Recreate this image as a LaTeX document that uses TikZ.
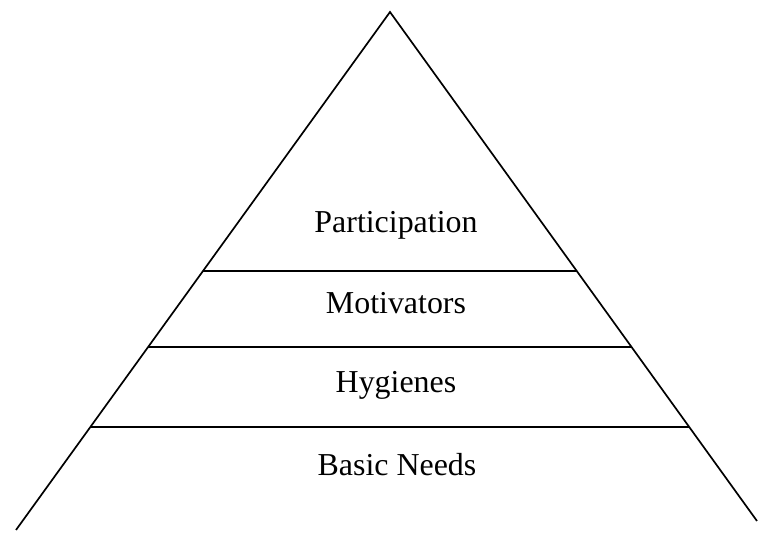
\documentclass[tikz,border=0pt]{standalone}
\usepackage{fontspec}
\setmainfont{Liberation Serif}
\usepackage{tikz}

\begin{document}
\begin{tikzpicture}[scale=0.25]
\tikzstyle{every node}+=[inner sep=0pt]
\tikzstyle{level}=[font=\fontsize{22.7}{27}\selectfont]
\useasboundingbox (0,0) rectangle (75.8,-53.4);
\coordinate (apex) at (39,-1.2);
\coordinate (bl) at (1.6,-53);
\coordinate (br) at (75.7,-52.1);
\draw [black, line width=1.2pt] (bl) -- (apex) -- (br);
\coordinate (l1) at (20.3,-27.1);
\coordinate (r1) at (57.67,-27.1);
\draw [black, line width=1.2pt] (l1) -- (r1);
\coordinate (l2) at (14.8,-34.7);
\coordinate (r2) at (63.15,-34.7);
\draw [black, line width=1.2pt] (l2) -- (r2);
\coordinate (l3) at (9,-42.7);
\coordinate (r3) at (68.9,-42.7);
\draw [black, line width=1.2pt] (l3) -- (r3);
\node [level] (participation) at (39.6,-22.5) {Participation};
\node [level] (motivators) at (39.6,-30.3) {Motivators};
\node [level] (hygienes) at (39.6,-38.5) {Hygienes};
\node [level] (basic) at (39.7,-46.5) {Basic Needs};
\end{tikzpicture}
\end{document}
